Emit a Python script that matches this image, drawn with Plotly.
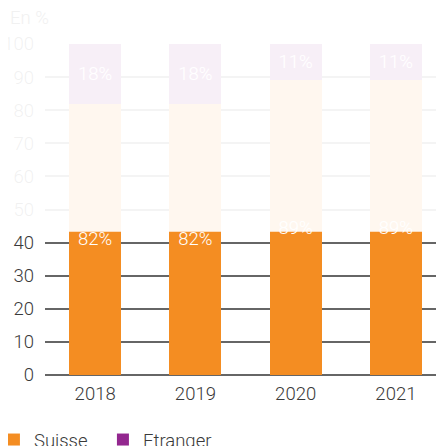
import plotly.graph_objects as go

years = ["2018", "2019", "2020", "2021"]
suisse = [82, 82, 89, 89]
etranger = [18, 18, 11, 11]
y_ticks = [0, 10, 20, 30, 40, 50, 60, 70, 80, 90, 100]
reveal_level = 43.3  # share of the chart already revealed (animation snapshot)

FONT = "Roboto, Arial, sans-serif"
ORANGE = "#F48D22"
PURPLE = "#93278F"
FS = 18.5
W = 300

fig = go.Figure()
fig.add_trace(go.Bar(
    x=years, y=suisse, name="Suisse", marker_color=ORANGE, marker_line_width=0,
    width=0.52, text=[f"{v}%" for v in suisse], textposition="inside",
    insidetextanchor="middle", textfont=dict(color="white", size=FS, family=FONT, weight=W),
))
fig.add_trace(go.Bar(
    x=years, y=etranger, name="Etranger", marker_color=PURPLE, marker_line_width=0,
    width=0.52, text=[f"{v}%" for v in etranger], textposition="inside",
    insidetextanchor="middle", textfont=dict(color="white", size=FS, family=FONT, weight=W),
))

# page body has an 8px default margin: compensate so the plot lands where the reference has it
fig.update_layout(
    barmode="stack",
    width=444, height=446,
    margin=dict(l=37, r=8, t=36, b=79, autoexpand=False),
    paper_bgcolor="white", plot_bgcolor="white",
    font=dict(family=FONT, size=FS, color="#3a3a3a", weight=W),
    showlegend=True,
    legend=dict(orientation="h", x=-0.128, xanchor="left", y=-0.139, yanchor="top",
                font=dict(size=FS, color="#3a3a3a", weight=W), entrywidth=64,
                traceorder="normal"),
    xaxis=dict(range=[-0.5, 3.48], showgrid=False, showline=False, ticks="",
               ticklabelstandoff=5,
               tickfont=dict(size=FS, color="#3a3a3a", weight=W), fixedrange=True),
    yaxis=dict(range=[0, 100], tickvals=y_ticks, showgrid=True, gridcolor="#666",
               gridwidth=2, zeroline=True, zerolinecolor="#666", zerolinewidth=2,
               ticks="", ticklabelstandoff=10,
               tickfont=dict(size=FS, color="#3a3a3a", weight=W)),
    annotations=[dict(text="En %", xref="paper", yref="paper", x=-0.0927, y=1.079,
                      xanchor="left", yanchor="middle", showarrow=False,
                      font=dict(size=FS, color="#f1f1f1", weight=W))],
    shapes=[dict(type="rect", xref="paper", yref="paper", x0=-0.2, x1=1.05,
                 y0=reveal_level / 100, y1=1.2, fillcolor="white", opacity=0.93,
                 line_width=0, layer="above")],
)

fig.write_html("out.html")
